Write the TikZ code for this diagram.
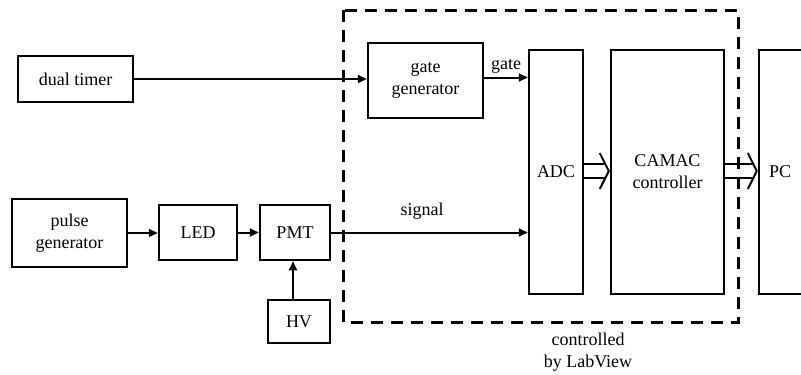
\documentclass[tikz,border=0pt]{standalone}
\usepackage{fontspec}
\setmainfont{Liberation Serif}
\usetikzlibrary{arrows.meta,calc}
\newcommand\hollowarr[2]{%
  \draw[hollowline] ($(#1)+(0,-7)$) -- ($(#2)+(-4,-7)$);
  \draw[hollowline] ($(#1)+(0,7)$) -- ($(#2)+(-4,7)$);
  \draw[hollowline, line join=round] ($(#2)+(-9,-18)$) .. controls ($(#2)+(-5,-9)$) .. (#2)
     .. controls ($(#2)+(-5,9)$) .. ($(#2)+(-9,18)$);
}
\begin{document}
\begin{tikzpicture}[x=1pt,y=-1pt,
  box/.style={draw, line width=2.5pt, inner sep=0pt, align=center, font=\fontsize{18}{22}\selectfont},
  lbl/.style={inner sep=0pt, align=center, font=\fontsize{18}{22}\selectfont},
  arr/.style={line width=2pt, -{Triangle[length=9pt,width=8pt]}},
  hollowline/.style={line width=2pt},
  dashbox/.style={line width=3pt, dash pattern=on 12pt off 8pt}]
\useasboundingbox (0,0) rectangle (801,375);
\clip (0,0) rectangle (801,375);
% nodes
\node[box, minimum width=115pt, minimum height=46pt] (dt) at (75.5,79) {dual timer};
\node[box, minimum width=115pt, minimum height=75pt] (gg) at (425.5,80.5) {gate\\generator};
\node[box, minimum width=54pt, minimum height=244pt] (adc) at (556,172) {ADC};
\node[box, minimum width=113pt, minimum height=244pt] (camac) at (667.5,172) {CAMAC\\controller};
\node[box, minimum width=60pt, minimum height=244pt, text width=40pt, align=left] (pc) at (789,172) {PC};
\node[box, minimum width=115pt, minimum height=68pt] (pg) at (69.5,233) {pulse\\generator};
\node[box, minimum width=78pt, minimum height=55pt] (led) at (198,232.5) {LED};
\node[box, minimum width=70pt, minimum height=55pt] (pmt) at (295,232.5) {PMT};
\node[box, minimum width=62pt, minimum height=43pt] (hv) at (299,321.5) {HV};
% dashed frame
\draw[dashbox] (343,10) rectangle (738,322);
% labels
\node[lbl] (gatelbl) at (506,66) {gate};
\node[lbl] (siglbl) at (422,211) {signal};
\node[lbl] (ctrl) at (588,352) {controlled\\by LabView};
% connectors
\draw[arr] (dt.east) -- (dt.east -| gg.west);
\draw[arr] ([yshift=3pt]gg.east) -- ([yshift=3pt]gg.east -| adc.west);
\draw[arr] (pg.east) -- (pg.east -| led.west);
\draw[arr] (led.east) -- (led.east -| pmt.west);
\draw[arr] (pmt.east) -- (pmt.east -| adc.west);
\draw[arr] ([xshift=-6pt]hv.north) -- ([xshift=-6pt]hv.north |- pmt.south);
\coordinate (a1s) at ([yshift=1pt]adc.east);
\coordinate (a1t) at ([yshift=1pt,xshift=-1pt]camac.west);
\coordinate (a2s) at ([yshift=1pt]camac.east);
\coordinate (a2t) at ([yshift=1pt,xshift=-1pt]pc.west);
\hollowarr{a1s}{a1t}
\hollowarr{a2s}{a2t}
\end{tikzpicture}
\end{document}
